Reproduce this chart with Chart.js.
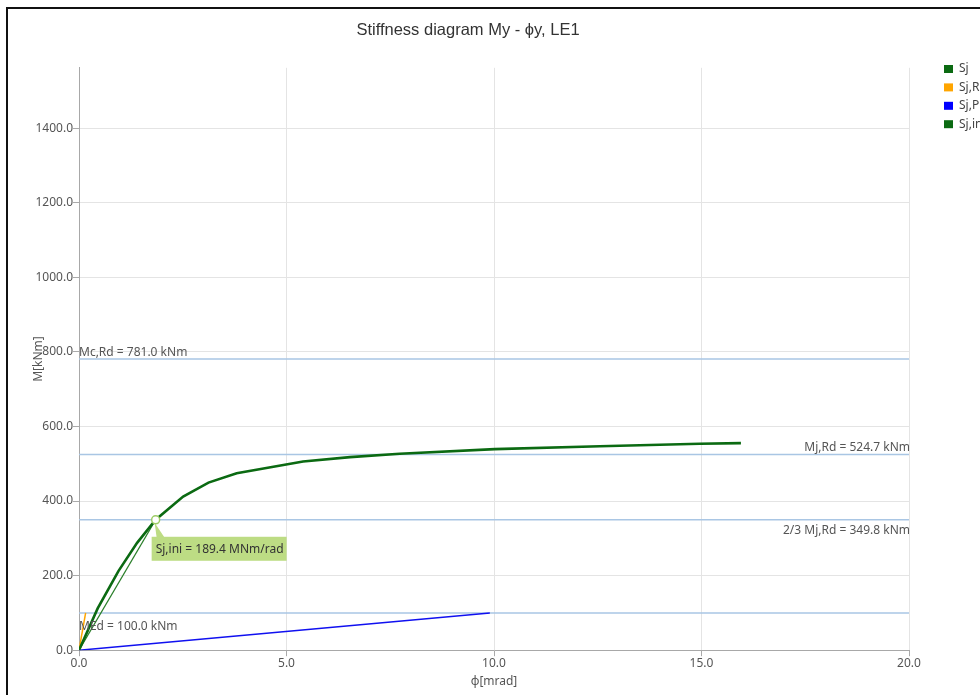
<!DOCTYPE html>
<html>
<head>
<meta charset="utf-8">
<script src="https://cdn.jsdelivr.net/npm/chart.js@4.4.1/dist/chart.umd.min.js"></script>
<style>
  html, body { margin: 0; padding: 0; background: #fff; overflow: hidden; width: 980px; height: 695px; }
  #wrap { position: relative; width: 980px; height: 695px; }
  canvas { position: absolute; left: 0; top: 0; }
  #frame { position: absolute; left: 6px; top: 7px; width: 1200px; height: 1000px;
           border-top: 2px solid #111; border-left: 2px solid #111; pointer-events: none; }
</style>
</head>
<body>
<div id="wrap">
  <canvas id="chart" width="980" height="695"></canvas>
  <div id="frame"></div>
</div>
<script>
// Moment-rotation curve of the joint (phi in mrad, M in kNm)
const sjPhi = [0, 0.45, 0.95, 1.40, 1.847, 2.51, 3.12, 3.80, 5.40, 6.53, 7.73, 10.02, 12.55, 14.96, 15.95];
const sjM   = [0, 112, 212, 288, 349.8, 411.9, 449.5, 474.8, 506.0, 517.8, 526.7, 539.3, 547.0, 553.6, 555.4];

// Boundary stiffness lines
const sjRPhi = [0, 0.16];
const sjRM   = [0, 100.0];
const sjPPhi = [0, 9.9];
const sjPM   = [0, 100.0];

// Initial stiffness secant up to 2/3 Mj,Rd
const sjIniStiffness = 189.4;          // MNm/rad
const sjIniPhi = [0, 1.847];
const sjIniM   = [0, 349.8];

// Characteristic moments
const limitNames  = ['Mc,Rd', 'Mj,Rd', '2/3 Mj,Rd', 'MEd'];
const limitValues = [781.0, 524.7, 349.8, 100.0];

// Axis ranges and tick values
const phiMax = 20;
const phiTicks = [0, 5, 10, 15, 20];
const mMax = 1562;
const mTicks = [0, 200, 400, 600, 800, 1000, 1200, 1400];

const pairs = (xs, ys) => xs.map((x, i) => ({ x, y: ys[i] }));

const FONT = '"Noto Sans", "Open Sans", sans-serif';
const GREEN = '#0b6a12';

const curveSets = [
  { label: 'Sj',     data: pairs(sjPhi, sjM),       borderColor: GREEN,     backgroundColor: GREEN,     borderWidth: 2.6, order: 0 },
  { label: 'Sj,R',   data: pairs(sjRPhi, sjRM),     borderColor: '#ffa500', backgroundColor: '#ffa500', borderWidth: 1.5, order: 2 },
  { label: 'Sj,P',   data: pairs(sjPPhi, sjPM),     borderColor: '#1010f0', backgroundColor: '#0000ff', borderWidth: 1.5, order: 3 },
  { label: 'Sj,ini', data: pairs(sjIniPhi, sjIniM), borderColor: '#2a7f2a', backgroundColor: GREEN,     borderWidth: 1.3, order: 1 }
];
const limitSets = limitNames.map((n, i) => ({
  label: n,
  data: [{ x: 0, y: limitValues[i] }, { x: phiMax, y: limitValues[i] }],
  borderColor: '#a9c6e4', borderWidth: 1.5, order: 10
}));

// Label placement for each characteristic moment line
const limitLabelStyle = {
  'Mc,Rd':     { side: 'left',  dy: -3 },
  'Mj,Rd':     { side: 'right', dy: -4 },
  '2/3 Mj,Rd': { side: 'right', dy: 14 },
  'MEd':       { side: 'left',  dy: 17 }
};

const annotations = {
  id: 'annotations',
  afterDatasetsDraw(chart) {
    const { ctx, chartArea, scales } = chart;
    ctx.save();
    ctx.font = '12px ' + FONT;
    ctx.fillStyle = '#555';
    ctx.textBaseline = 'alphabetic';
    limitNames.forEach((n, i) => {
      const st = limitLabelStyle[n];
      const y = scales.y.getPixelForValue(limitValues[i]);
      const text = n + ' = ' + limitValues[i].toFixed(1) + ' kNm';
      if (st.side === 'left') { ctx.textAlign = 'left';  ctx.fillText(text, chartArea.left, y + st.dy); }
      else                    { ctx.textAlign = 'right'; ctx.fillText(text, chartArea.right + 1, y + st.dy); }
    });

    // Initial stiffness callout
    const px = scales.x.getPixelForValue(sjIniPhi[1]);
    const py = scales.y.getPixelForValue(sjIniM[1]);
    const boxL = px - 4, boxT = py + 17, boxW = 135, boxH = 24;
    ctx.fillStyle = '#bddc84';
    ctx.beginPath();
    ctx.moveTo(px - 1, py + 3);
    ctx.lineTo(px + 1, boxT + 1);
    ctx.lineTo(px + 9, boxT + 1);
    ctx.closePath();
    ctx.fill();
    ctx.fillRect(boxL, boxT, boxW, boxH);
    ctx.fillStyle = '#333';
    ctx.textAlign = 'left';
    ctx.textBaseline = 'middle';
    ctx.fillText('Sj,ini = ' + sjIniStiffness.toFixed(1) + ' MNm/rad', boxL + 4, boxT + boxH / 2 + 1);

    ctx.beginPath();
    ctx.arc(px, py, 4, 0, Math.PI * 2);
    ctx.fillStyle = '#fff';
    ctx.fill();
    ctx.lineWidth = 1.5;
    ctx.strokeStyle = '#9ccc65';
    ctx.stroke();
    ctx.restore();
  }
};

const sideLegend = {
  id: 'sideLegend',
  afterDraw(chart) {
    const { ctx } = chart;
    ctx.save();
    ctx.font = '12px ' + FONT;
    ctx.textAlign = 'left';
    ctx.textBaseline = 'middle';
    curveSets.forEach((ds, i) => {
      const y = 69 + i * 18.4;
      ctx.fillStyle = ds.backgroundColor;
      ctx.fillRect(944, y - 4, 9, 8);
      ctx.fillStyle = '#444';
      ctx.fillText(ds.label, 959, y);
    });
    ctx.restore();
  }
};

const tickFont = { family: FONT, size: 12 };
const fixedTicks = values => scale => { scale.ticks = values.map(v => ({ value: v })); };

new Chart(document.getElementById('chart'), {
  type: 'line',
  data: { datasets: [...curveSets, ...limitSets] },
  options: {
    responsive: false,
    animation: false,
    devicePixelRatio: 1,
    elements: { point: { radius: 0 }, line: { tension: 0 } },
    layout: { padding: { left: 27, right: 71, top: 0, bottom: 2 } },
    plugins: {
      legend: { display: false },
      tooltip: { enabled: false },
      title: {
        display: true,
        text: 'Stiffness diagram My - \u03D5y, LE1',
        color: '#333',
        font: { family: '"Liberation Sans", Arial, sans-serif', size: 16.5, weight: 'normal' },
        padding: { top: 21, bottom: 27 }
      }
    },
    scales: {
      x: {
        type: 'linear', min: 0, max: phiMax,
        afterBuildTicks: fixedTicks(phiTicks),
        ticks: { padding: 0, color: '#555', font: tickFont, maxRotation: 0,
                 callback: v => Number(v).toFixed(1) },
        grid: { color: '#e4e4e4', tickColor: '#aaa', tickLength: 6 },
        border: { color: '#a8a8a8' },
        title: { display: true, text: '\u03D5[mrad]', color: '#555', font: tickFont, padding: { top: 4, bottom: 4 } }
      },
      y: {
        type: 'linear', min: 0, max: mMax,
        afterBuildTicks: fixedTicks(mTicks),
        afterFit(scale) { scale.width = 52; },
        ticks: { padding: 0, color: '#555', font: tickFont, callback: v => Number(v).toFixed(1) },
        grid: { color: '#e4e4e4', tickColor: '#aaa', tickLength: 6 },
        border: { color: '#a8a8a8' },
        title: { display: true, text: 'M[kNm]', color: '#555', font: tickFont, padding: { top: 4, bottom: 4 } }
      }
    }
  },
  plugins: [annotations, sideLegend]
});
</script>
</body>
</html>
